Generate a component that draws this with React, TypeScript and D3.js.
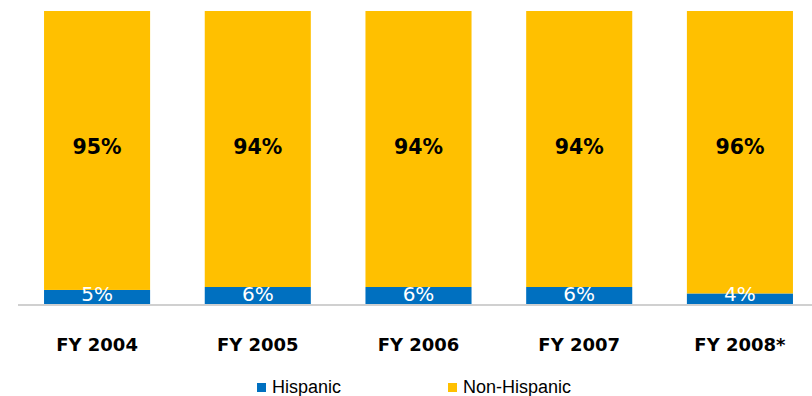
import React from "react";
import * as d3 from "d3";

const categories = ["FY 2004", "FY 2005", "FY 2006", "FY 2007", "FY 2008*"];
const hispanic = [4.8, 5.8, 5.8, 5.8, 3.6];
const nonHispanic = [95.2, 94.2, 94.2, 94.2, 96.4];
const hispanicLabels = ["5%", "6%", "6%", "6%", "4%"];
const nonHispanicLabels = ["95%", "94%", "94%", "94%", "96%"];
const seriesNames = ["Hispanic", "Non-Hispanic"];
const colors = ["#0070C0", "#FFC000"];

const W = 812;
const H = 396;

export default function App() {
  const x = d3
    .scaleBand<string>()
    .domain(categories)
    .range([18, 819])
    .paddingInner(0.34)
    .paddingOuter(0.162);
  const y = d3.scaleLinear().domain([0, 100]).range([304, 11]);
  const bw = x.bandwidth();

  return (
    <svg
      width={W}
      height={H}
      style={{ position: "absolute", left: 0, top: 0, background: "#fff" }}
    >
      {categories.map((c, i) => {
        const x0 = x(c)!;
        const cx = x0 + bw / 2;
        const hTop = y(hispanic[i]);
        const nTop = y(hispanic[i] + nonHispanic[i]);
        return (
          <g key={c}>
            <rect x={x0} y={hTop} width={bw} height={y(0) - hTop} fill={colors[0]} />
            <rect x={x0} y={nTop} width={bw} height={hTop - nTop} fill={colors[1]} />
            <text
              x={cx}
              y={153.5}
              textAnchor="middle"
              fontFamily="DejaVu Sans"
              fontWeight="bold"
              fontSize={20.5}
              fill="#000"
            >
              {nonHispanicLabels[i]}
            </text>
            <text
              x={cx}
              y={301}
              textAnchor="middle"
              fontFamily="DejaVu Sans"
              fontSize={20}
              fill="#fff"
            >
              {hispanicLabels[i]}
            </text>
            <text
              x={cx}
              y={351}
              textAnchor="middle"
              fontFamily="DejaVu Sans"
              fontWeight="bold"
              fontSize={18}
              fill="#000"
            >
              {c}
            </text>
          </g>
        );
      })}
      <line x1={18} x2={812} y1={305} y2={305} stroke="#C0C0C0" strokeWidth={1.5} />
      {seriesNames.map((s, i) => {
        const lx = i === 0 ? 257 : 448;
        return (
          <g key={s}>
            <rect x={lx} y={383} width={9} height={9} fill={colors[i]} />
            <text
              x={lx + 15}
              y={392.5}
              fontFamily="Liberation Sans, Arial"
              fontSize={18}
              fill="#000"
            >
              {s}
            </text>
          </g>
        );
      })}
    </svg>
  );
}
